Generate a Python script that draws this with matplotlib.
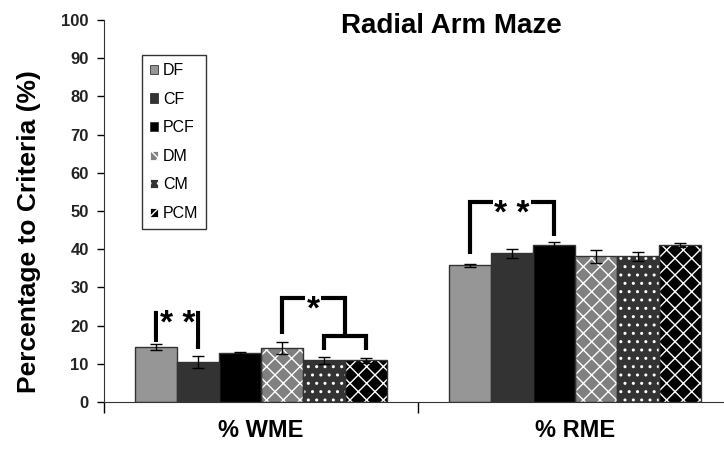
import numpy as np
import matplotlib.pyplot as plt
from matplotlib.patches import Patch

plt.rcParams['font.family'] = ['Liberation Sans', 'DejaVu Sans']
plt.rcParams['hatch.linewidth'] = 1.0

categories = ['% WME', '% RME']
groups = ['DF', 'CF', 'PCF', 'DM', 'CM', 'PCM']
means = {
    'DF':  [14.3, 35.8],
    'CF':  [10.4, 38.9],
    'PCF': [12.8, 41.0],
    'DM':  [14.1, 38.1],
    'CM':  [10.9, 38.1],
    'PCM': [10.9, 41.0],
}
errs = {
    'DF':  [0.8, 0.4],
    'CF':  [1.6, 1.2],
    'PCF': [0.2, 0.9],
    'DM':  [1.5, 1.6],
    'CM':  [0.9, 1.2],
    'PCM': [0.6, 0.5],
}
colors = ['#969696', '#333333', '#000000', '#808080', '#333333', '#000000']
hatches = [None, None, None, 'xx', '..', 'xx']

# significance brackets: (category, left bar, right bar, bar height, left leg end, right leg end, label)
brackets = [
    (0, 0, 1, 23.4, 15.6, 13.8, '* *'),
    (0, 4, 5, 17.3, 13.6, 13.6, None),
    (1, 0, 2, 52.4, 38.8, 43.5, '* *'),
]

fig = plt.figure(figsize=(7.24, 4.74), dpi=100)
ax = fig.add_axes([104/724, 72/474, 628/724, 382/474])

x = np.arange(len(categories))
w = 0.8 / len(groups)
centers = {}
for i, g in enumerate(groups):
    pos = x + (i - 2.5) * w
    centers[g] = pos
    if hatches[i]:
        ax.bar(pos, means[g], w, color=colors[i], hatch=hatches[i],
               edgecolor='white', linewidth=0, zorder=2)
    else:
        ax.bar(pos, means[g], w, color=colors[i], linewidth=0, zorder=2)
    ax.bar(pos, means[g], w, fill=False, edgecolor='#333333', linewidth=1.0, zorder=3)
    ax.errorbar(pos, means[g], yerr=errs[g], fmt='none', ecolor='black',
                elinewidth=1.0, capsize=4, capthick=1.0, zorder=4)


def star(xc, yc, lab):
    ax.annotate(lab, (xc, yc), xytext=(0, -15), textcoords='offset points',
                ha='center', va='baseline', fontsize=24, fontweight='bold', zorder=6,
                bbox=dict(facecolor='white', edgecolor='none', pad=1))


lw = 3
for c, a, b, h, la, lb, lab in brackets:
    xa = centers[groups[a]][c]
    xb = centers[groups[b]][c]
    ax.plot([xa, xa, xb, xb], [la, h, h, lb], color='black', lw=lw,
            solid_joinstyle='miter', solid_capstyle='butt', zorder=5)
    if lab:
        star((xa + xb) / 2, h, lab)

# the '*' bracket joins DM to the CM/PCM bracket
xd = centers['DM'][0]
xm = (centers['CM'][0] + centers['PCM'][0]) / 2
ax.plot([xd, xd, xm, xm], [17.8, 27.2, 27.2, 17.3], color='black', lw=lw,
        solid_joinstyle='miter', solid_capstyle='butt', zorder=5)
star((xd + xm) / 2, 27.2, '*')

ax.set_xlim(-0.5, 1.5)
ax.set_ylim(0, 100)
ax.set_yticks(range(0, 101, 10))
ax.tick_params(axis='y', direction='out', length=5, labelsize=12, width=1, pad=6,
               labelcolor='#222222')
for t in ax.get_yticklabels():
    t.set_fontweight('bold')
ax.set_xticks([-0.5, 0.5, 1.5])
ax.set_xticklabels([])
ax.tick_params(axis='x', which='major', direction='out', length=8, width=1)
ax.set_xticks(x, minor=True)
ax.set_xticklabels(categories, minor=True, fontsize=17, fontweight='bold')
ax.tick_params(axis='x', which='minor', length=0, pad=12)
ax.spines['top'].set_visible(False)
ax.spines['right'].set_visible(False)
ax.spines['left'].set_color('#333333')
ax.spines['bottom'].set_color('#333333')
ax.set_ylabel('Percentage to Criteria (%)', fontsize=19, fontweight='bold')
ax.yaxis.set_label_coords(-0.100, 0.445)

fig.text(451/724, 1 - 26/474, 'Radial Arm Maze', ha='center', va='center',
         fontsize=20, fontweight='bold')

handles = [Patch(facecolor=colors[i], hatch=hatches[i], edgecolor='white' if hatches[i] else '#333333',
                 linewidth=0.6) for i in range(len(groups))]
leg = ax.legend(handles, groups, loc='upper left', bbox_to_anchor=(0.0605, 0.908),
                borderaxespad=0, fontsize=11.5, handlelength=0.5, handleheight=0.5,
                handletextpad=0.3, labelspacing=0.85, borderpad=0.5, fancybox=False,
                framealpha=1, edgecolor='#333333')
leg.get_frame().set_linewidth(1.0)

fig.savefig('out.png', dpi=100)
